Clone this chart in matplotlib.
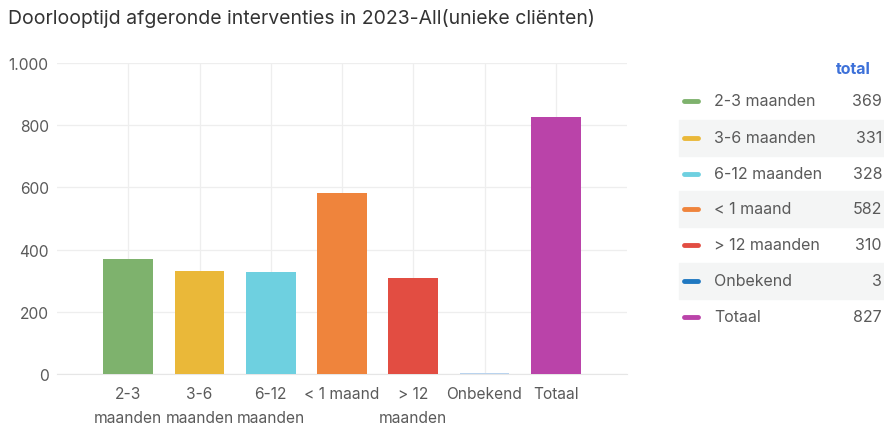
import numpy as np
import matplotlib.pyplot as plt
from matplotlib.lines import Line2D
from matplotlib.patches import Rectangle

plt.rcParams['font.family'] = ['Inter', 'DejaVu Sans']

# --- DATA ---
categories = ["2-3\nmaanden", "3-6\nmaanden", "6-12\nmaanden", "< 1 maand",
              "> 12\nmaanden", "Onbekend", "Totaal"]
legend_labels = ["2-3 maanden", "3-6 maanden", "6-12 maanden", "< 1 maand",
                 "> 12 maanden", "Onbekend", "Totaal"]
values = [369, 331, 328, 582, 310, 3, 827]
colors = ["#7EB26D", "#EAB839", "#6ED0E0", "#EF843C", "#E24D42", "#1F78C1", "#BA43A9"]
bar_colors = ["#7EB26D", "#EAB839", "#6ED0E0", "#EF843C", "#E24D42", "#B9D3EE", "#BA43A9"]
yticks = [0, 200, 400, 600, 800, 1000]
ytick_labels = ["0", "200", "400", "600", "800", "1.000"]

W, H = 884, 427
fig = plt.figure(figsize=(W / 100, H / 100), dpi=100, facecolor="white")
ax = fig.add_axes([57 / W, 1 - 375 / H, 570 / W, 311 / H])

x = np.arange(len(values))
ax.bar(x, values, width=0.7, color=bar_colors, zorder=3)
ax.set_xlim(-1, len(values))
ax.set_ylim(0, 1000)
ax.set_yticks(yticks)
ax.set_yticklabels(ytick_labels)
ax.set_xticks(x)
ax.set_xticklabels(categories, linespacing=1.75, va="top")
ax.tick_params(axis="both", length=0, colors="#5a5a5a", labelsize=11.2)
ax.tick_params(axis="x", pad=9)
ax.tick_params(axis="y", pad=6)
ax.grid(True, color="#eeeeee", lw=0.9, zorder=0)
for s in ["top", "right", "left"]:
    ax.spines[s].set_visible(False)
ax.spines["bottom"].set_color("#e6e6e6")

fig.text(8 / W, 1 - 18 / H, "Doorlooptijd afgeronde interventies in 2023-All(unieke cliënten)",
         fontsize=14, color="#333333", va="center", ha="left")

# --- legend table ---
fig.text(853 / W, 1 - 69 / H, "total", fontsize=11.5, color="#3d71d9",
         fontweight="bold", ha="center", va="center")
row_y = [102, 139, 175, 210, 246, 282, 318]
for i, (lab, val, c) in enumerate(zip(legend_labels, values, colors)):
    yc = row_y[i]
    if i % 2 == 1:
        fig.patches.append(Rectangle((679 / W, 1 - (yc + 18) / H), 205 / W, 36 / H,
                                     transform=fig.transFigure, color="#f4f5f5", zorder=0))
    fig.lines.append(Line2D([684 / W, 698 / W], [1 - yc / H, 1 - yc / H],
                            transform=fig.transFigure, color=c, lw=3.5,
                            solid_capstyle="round"))
    fig.text(714 / W, 1 - yc / H, lab, fontsize=11.5, color="#5a5a5a", va="center", ha="left")
    fig.text(882 / W, 1 - yc / H, str(val), fontsize=11.5, color="#5a5a5a", va="center", ha="right")

fig.savefig("out.png", dpi=100)
